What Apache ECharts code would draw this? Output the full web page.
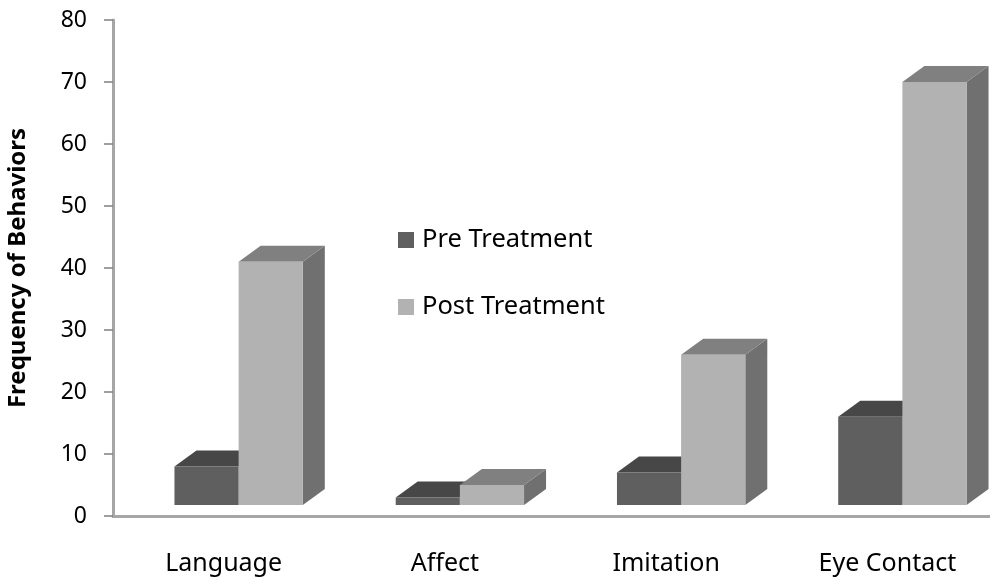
<!DOCTYPE html>
<html>
<head>
<meta charset="utf-8">
<title>Frequency of Behaviors</title>
<style>
html, body { margin: 0; padding: 0; background: #fff; }
#chart { width: 990px; height: 577px; }
</style>
<script src="https://cdn.jsdelivr.net/npm/echarts@6/dist/echarts.min.js"></script>
</head>
<body>
<div id="chart"></div>
<script>
var categories = ['Language', 'Affect', 'Imitation', 'Eye Contact'];
var preTreatment = [8, 3, 7, 16];
var postTreatment = [41, 5, 26, 70];
var yTicks = { min: 0, max: 80, interval: 10 };

var fontName = '"Noto Sans", "Open Sans", sans-serif';
var depthX = 22, depthY = 16, floorGap = 11;

// fake 3D box: front, top and side faces. slot 0 = left bar, slot 1 = right bar
function box(slot, colors) {
    return function (params, api) {
        var band = api.size([1, 0])[0];
        var w = band * 0.29;
        var p = api.coord([api.value(0), api.value(1)]);
        var base = api.coord([api.value(0), 0])[1] - floorGap;
        var x0 = p[0] + 15 - w + slot * w;
        var x1 = x0 + w;
        var top = p[1];
        return {
            type: 'group',
            children: [
                {
                    type: 'polygon',
                    shape: { points: [[x1, top], [x1 + depthX, top - depthY], [x1 + depthX, base - depthY], [x1, base]] },
                    style: { fill: colors.side }
                },
                {
                    type: 'polygon',
                    shape: { points: [[x0, top], [x0 + depthX, top - depthY], [x1 + depthX, top - depthY], [x1, top]] },
                    style: { fill: colors.top }
                },
                {
                    type: 'rect',
                    shape: { x: x0, y: top, width: w, height: base - top },
                    style: { fill: colors.front }
                }
            ]
        };
    };
}

function toData(values) {
    return values.map(function (v, i) { return [i, v]; });
}

var chart = echarts.init(document.getElementById('chart'));
chart.setOption({
    animation: false,
    backgroundColor: '#fff',
    textStyle: { fontFamily: fontName },
    grid: { left: 113, top: 20, bottom: 61, width: 885, containLabel: false, outerBoundsMode: 'none' },
    legend: {
        orient: 'vertical',
        left: 393,
        top: 222,
        itemWidth: 16,
        itemHeight: 16,
        itemGap: 41,
        data: [
            { name: 'Pre Treatment', icon: 'rect' },
            { name: 'Post Treatment', icon: 'rect' }
        ],
        textStyle: { fontFamily: fontName, fontSize: 25.5, color: '#000', padding: [0, 0, 0, 3] }
    },
    xAxis: {
        type: 'category',
        data: categories,
        axisTick: { show: false },
        axisLine: { lineStyle: { color: '#a6a6a6', width: 3 } },
        axisLabel: { color: '#000', fontFamily: fontName, fontSize: 25, margin: 35 }
    },
    yAxis: {
        type: 'value',
        min: yTicks.min,
        max: yTicks.max,
        interval: yTicks.interval,
        name: 'Frequency of Behaviors',
        nameLocation: 'middle',
        nameRotate: 90,
        nameGap: 83,
        nameTextStyle: { color: '#000', fontFamily: fontName, fontSize: 24, fontWeight: 'bold' },
        splitLine: { show: false },
        axisLine: { show: true, lineStyle: { color: '#a6a6a6', width: 3 } },
        axisTick: { show: true, length: 9, lineStyle: { color: '#808080', width: 1.5 } },
        axisLabel: { color: '#000', fontFamily: fontName, fontSize: 23, margin: 26 }
    },
    series: [
        {
            name: 'Pre Treatment',
            type: 'custom',
            clip: false,
            itemStyle: { color: '#5f5f5f' },
            encode: { x: 0, y: 1 },
            renderItem: box(0, { front: '#5f5f5f', top: '#474747', side: '#474747' }),
            data: toData(preTreatment)
        },
        {
            name: 'Post Treatment',
            type: 'custom',
            clip: false,
            itemStyle: { color: '#b2b2b2' },
            encode: { x: 0, y: 1 },
            renderItem: box(1, { front: '#b2b2b2', top: '#808080', side: '#707070' }),
            data: toData(postTreatment)
        }
    ]
});
</script>
</body>
</html>
